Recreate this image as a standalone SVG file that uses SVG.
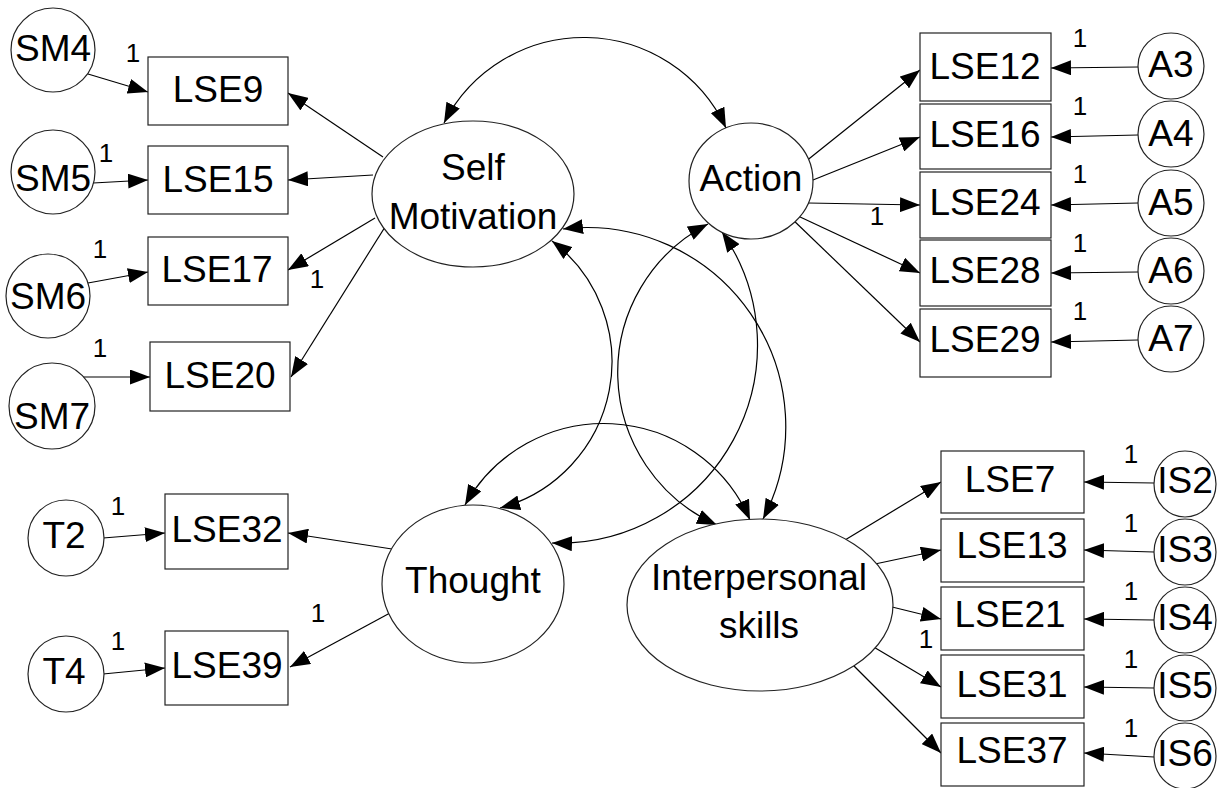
<svg xmlns="http://www.w3.org/2000/svg" width="1231" height="788" viewBox="0 0 1231 788">
<style>
.c{fill:none;stroke:#000;stroke-width:1.2;marker-end:url(#ah)}
.cv{fill:none;stroke:#000;stroke-width:1.2;marker-start:url(#ah);marker-end:url(#ah)}
.n{fill:#fff;stroke:#222;stroke-width:1.2}
.t{font-family:"Liberation Sans",Arial,sans-serif;font-size:37px;text-anchor:middle;fill:#000}
.w{font-family:"Liberation Sans",Arial,sans-serif;font-size:26px;text-anchor:middle;fill:#000}
</style>
<defs>
<marker id="ah" viewBox="0 0 20 15" refX="20" refY="7.5" markerWidth="20" markerHeight="15" markerUnits="userSpaceOnUse" orient="auto-start-reverse">
<path d="M0,0 L20,7.5 L0,15 z" fill="#000"/>
</marker>
</defs>
<rect width="1231" height="788" fill="#fff"/>
<g id="connectors">
<path class="c" d="M383,157 L288,93"/>
<path class="c" d="M373,175 L288,180"/>
<path class="c" d="M375,218 L288,270"/>
<path class="c" d="M390,219 L291,377"/>
<path class="c" d="M88,74 L148,92"/>
<path class="c" d="M93,183 L148,180"/>
<path class="c" d="M88,283 L148,272"/>
<path class="c" d="M83,377 L150,377"/>
<path class="c" d="M805,162 L920,70"/>
<path class="c" d="M808,182 L920,137"/>
<path class="c" d="M808,203 L920,205"/>
<path class="c" d="M798,216 L920,273"/>
<path class="c" d="M790,217 L920,342"/>
<path class="c" d="M1138,67 L1051,68"/>
<path class="c" d="M1138,135 L1051,137"/>
<path class="c" d="M1138,203 L1051,205"/>
<path class="c" d="M1138,272 L1051,273"/>
<path class="c" d="M1138,340 L1051,342"/>
<path class="c" d="M392,549 L288,533"/>
<path class="c" d="M390,613 L290,667"/>
<path class="c" d="M103,538 L165,533"/>
<path class="c" d="M103,674 L165,668"/>
<path class="c" d="M845,540 L941,482"/>
<path class="c" d="M875,564 L941,550"/>
<path class="c" d="M888,606 L941,619"/>
<path class="c" d="M872,646 L941,687"/>
<path class="c" d="M852,664 L941,753"/>
<path class="c" d="M1154,483 L1084,482"/>
<path class="c" d="M1154,552 L1084,550"/>
<path class="c" d="M1154,620 L1084,619"/>
<path class="c" d="M1154,688 L1084,687"/>
<path class="c" d="M1154,757 L1084,753"/>
<path class="cv" d="M444,123 A157,157 0 0 1 726,128"/>
<path class="cv" d="M552,241 A151.5,151.5 0 0 1 500,508"/>
<path class="cv" d="M563,229 A199,199 0 0 1 763,519"/>
<path class="cv" d="M722,232 A198,198 0 0 1 552,543"/>
<path class="cv" d="M708,224 A167,167 0 0 0 717,525"/>
<path class="cv" d="M465,505 A159,159 0 0 1 750,520"/>
</g>
<g id="weights">
<text class="w" x="133" y="62">1</text>
<text class="w" x="106" y="162">1</text>
<text class="w" x="100" y="258">1</text>
<text class="w" x="100" y="357">1</text>
<text class="w" x="317" y="288">1</text>
<text class="w" x="877" y="225">1</text>
<text class="w" x="1080" y="47">1</text>
<text class="w" x="1080" y="115">1</text>
<text class="w" x="1080" y="183">1</text>
<text class="w" x="1080" y="252">1</text>
<text class="w" x="1080" y="320">1</text>
<text class="w" x="118" y="515">1</text>
<text class="w" x="118" y="650">1</text>
<text class="w" x="318" y="622">1</text>
<text class="w" x="1131" y="463">1</text>
<text class="w" x="1131" y="532">1</text>
<text class="w" x="1131" y="600">1</text>
<text class="w" x="1131" y="668">1</text>
<text class="w" x="1131" y="737">1</text>
<text class="w" x="926" y="648">1</text>
</g>
<g id="SelfMotivation"><ellipse class="n" cx="473" cy="194" rx="101" ry="73"/><text class="t" x="473" y="180">Self</text><text class="t" x="473" y="229">Motivation</text></g>
<g id="Action"><ellipse class="n" cx="751" cy="181" rx="62" ry="58"/><text class="t" x="751" y="191">Action</text></g>
<g id="Thought"><ellipse class="n" cx="473" cy="584" rx="91" ry="79"/><text class="t" x="473" y="593">Thought</text></g>
<g id="Interpersonal"><ellipse class="n" cx="760" cy="605" rx="133" ry="86"/><text class="t" x="759" y="590">Interpersonal</text><text class="t" x="759" y="638">skills</text></g>
<g id="LSE9"><rect class="n" x="148" y="57" width="140" height="68"/><text class="t" x="218" y="102">LSE9</text></g>
<g id="LSE15"><rect class="n" x="148" y="146" width="140" height="68"/><text class="t" x="218" y="192">LSE15</text></g>
<g id="LSE17"><rect class="n" x="148" y="237" width="140" height="68"/><text class="t" x="217" y="282">LSE17</text></g>
<g id="LSE20"><rect class="n" x="150" y="342" width="140" height="69"/><text class="t" x="220" y="388">LSE20</text></g>
<g id="SM4"><circle class="n" cx="53" cy="50" r="42"/><text class="t" x="53" y="61">SM4</text></g>
<g id="SM5"><circle class="n" cx="53" cy="172" r="42"/><text class="t" x="53" y="191">SM5</text></g>
<g id="SM6"><circle class="n" cx="48" cy="296" r="42"/><text class="t" x="48" y="309">SM6</text></g>
<g id="SM7"><circle class="n" cx="52" cy="406" r="43"/><text class="t" x="52" y="429">SM7</text></g>
<g id="LSE12"><rect class="n" x="920" y="33" width="131" height="68"/><text class="t" x="985" y="79">LSE12</text></g>
<g id="LSE16"><rect class="n" x="920" y="104" width="131" height="65"/><text class="t" x="985" y="147">LSE16</text></g>
<g id="LSE24"><rect class="n" x="920" y="172" width="131" height="66"/><text class="t" x="985" y="215">LSE24</text></g>
<g id="LSE28"><rect class="n" x="920" y="240" width="131" height="66"/><text class="t" x="985" y="283">LSE28</text></g>
<g id="LSE29"><rect class="n" x="920" y="309" width="131" height="68"/><text class="t" x="985" y="352">LSE29</text></g>
<g id="A3"><circle class="n" cx="1171" cy="66" r="33"/><text class="t" x="1171" y="77">A3</text></g>
<g id="A4"><circle class="n" cx="1171" cy="134" r="33"/><text class="t" x="1171" y="146">A4</text></g>
<g id="A5"><circle class="n" cx="1171" cy="203" r="33"/><text class="t" x="1171" y="215">A5</text></g>
<g id="A6"><circle class="n" cx="1171" cy="271" r="33"/><text class="t" x="1171" y="283">A6</text></g>
<g id="A7"><circle class="n" cx="1171" cy="339" r="33"/><text class="t" x="1171" y="351">A7</text></g>
<g id="LSE32"><rect class="n" x="165" y="494" width="123" height="75"/><text class="t" x="227" y="542">LSE32</text></g>
<g id="LSE39"><rect class="n" x="165" y="631" width="123" height="74"/><text class="t" x="227" y="678">LSE39</text></g>
<g id="T2"><circle class="n" cx="66" cy="538" r="38"/><text class="t" x="64" y="548">T2</text></g>
<g id="T4"><circle class="n" cx="66" cy="674" r="38"/><text class="t" x="64" y="684">T4</text></g>
<g id="LSE7"><rect class="n" x="941" y="451" width="143" height="62"/><text class="t" x="1010" y="492">LSE7</text></g>
<g id="LSE13"><rect class="n" x="941" y="519" width="143" height="63"/><text class="t" x="1012" y="558">LSE13</text></g>
<g id="LSE21"><rect class="n" x="941" y="587" width="143" height="63"/><text class="t" x="1010" y="627">LSE21</text></g>
<g id="LSE31"><rect class="n" x="941" y="655" width="143" height="63"/><text class="t" x="1012" y="697">LSE31</text></g>
<g id="LSE37"><rect class="n" x="941" y="723" width="143" height="63"/><text class="t" x="1012" y="763">LSE37</text></g>
<g id="IS2"><ellipse class="n" cx="1185" cy="484" rx="31" ry="33"/><text class="t" x="1185" y="493">IS2</text></g>
<g id="IS3"><ellipse class="n" cx="1185" cy="552" rx="31" ry="33"/><text class="t" x="1185" y="562">IS3</text></g>
<g id="IS4"><ellipse class="n" cx="1185" cy="620" rx="31" ry="33"/><text class="t" x="1185" y="630">IS4</text></g>
<g id="IS5"><ellipse class="n" cx="1185" cy="688" rx="31" ry="33"/><text class="t" x="1185" y="698">IS5</text></g>
<g id="IS6"><ellipse class="n" cx="1185" cy="756" rx="31" ry="33"/><text class="t" x="1185" y="766">IS6</text></g>
</svg>
